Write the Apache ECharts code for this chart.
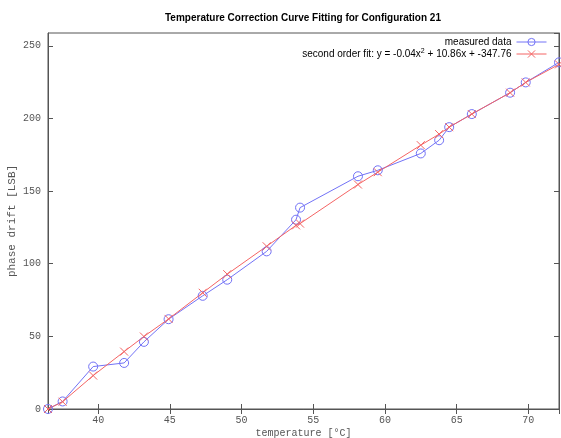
<!DOCTYPE html>
<html>
<head>
<meta charset="utf-8">
<script src="https://cdn.jsdelivr.net/npm/echarts@6/dist/echarts.min.js"></script>
<style>html,body{margin:0;padding:0;background:#fff;}#c{width:561px;height:438px;}</style>
</head>
<body>
<div id="c"></div>
<script>
var temperatures = [36.5, 37.52, 39.65, 41.81, 43.19, 44.91, 47.29, 49.0, 51.75, 53.8, 54.08, 58.12, 59.5, 62.5, 63.78, 64.48, 66.06, 68.73, 69.82, 72.14];
var measured = [0, 5.2, 29.2, 31.7, 46.2, 61.8, 77.9, 89, 108.5, 130.3, 138.6, 160.2, 164.3, 175.9, 185, 194, 203, 217.7, 224.8, 238.6];
var fitted = [0, 5, 23, 39.5, 49.9, 62, 80, 92.8, 112, 126.4, 127.6, 154.5, 163, 181.6, 189.2, 194, 203, 217.7, 224.8, 237.2];
var xMin = 36.5, xMax = 72.14, yMin = 0, yMax = 258.8;
var titleText = 'Temperature Correction Curve Fitting for Configuration 21';
var seriesNames = ['measured data', 'second order fit: y = -0.04x{s|2} + 10.86x + -347.76'];
var xLabel = 'temperature [°C]';
var yLabel = 'phase drift [LSB]';

var blue = '#7272f6', red = '#f46464', axisCol = '#555';
var mono = 'Liberation Mono';
function pairs(xs, ys){ return xs.map(function(x,i){ return [x, ys[i]]; }); }
var tickStyle = { show: true, inside: true, length: 5, lineStyle: { color: axisCol } };
var chart = echarts.init(document.getElementById('c'));
chart.setOption({
  animation: false,
  backgroundColor: '#fff',
  title: { text: titleText, left: 165, top: 13, padding: 0,
    textStyle: { fontFamily: 'Liberation Sans', fontWeight: 'bold', fontSize: 10, color: '#000' } },
  grid: { left: 48, right: 2, top: 33, bottom: 29, containLabel: false, outerBoundsMode: 'none',
    show: true, borderColor: axisCol, borderWidth: 1 },
  legend: {
    orient: 'vertical', right: 14, top: 34, align: 'right', itemGap: 0, padding: [2, 0, 2, 0],
    itemWidth: 30, itemHeight: 9,
    itemStyle: { borderWidth: 1 },
    lineStyle: { width: 1 },
    textStyle: { fontFamily: 'Liberation Sans', fontSize: 10, color: '#000', lineHeight: 12,
      rich: { s: { fontSize: 7, verticalAlign: 'top', padding: [0,0,6,0], fontFamily: 'Liberation Sans' } } },
    formatter: function(n){ return n; },
    data: [seriesNames[0], seriesNames[1]]
  },
  xAxis: [{
    type: 'value', min: xMin, max: xMax, splitNumber: 7, minInterval: 5, maxInterval: 5,
    name: xLabel, nameLocation: 'middle', nameGap: 19, nameMoveOverlap: false,
    nameTextStyle: { fontFamily: mono, fontSize: 10, color: axisCol },
    axisLine: { show: true, lineStyle: { color: axisCol } },
    axisTick: tickStyle, splitLine: { show: false },
    axisLabel: { showMinLabel: false, showMaxLabel: false, fontFamily: mono, fontSize: 10, color: axisCol, margin: 6,
      formatter: function(v){ return (Math.abs(v % 5) < 1e-9) ? String(v) : ''; } }
  }, {
    type: 'value', position: 'top', min: xMin, max: xMax, splitNumber: 7, minInterval: 5, maxInterval: 5,
    axisLine: { show: true, lineStyle: { color: axisCol } },
    axisTick: tickStyle, axisLabel: { show: false }, splitLine: { show: false }
  }],
  yAxis: [{
    type: 'value', min: yMin, max: yMax, minInterval: 50, maxInterval: 50,
    name: yLabel, nameLocation: 'middle', nameGap: 30, nameRotate: 90, nameMoveOverlap: false,
    nameTextStyle: { fontFamily: mono, fontSize: 11, color: axisCol },
    axisLine: { show: true, lineStyle: { color: axisCol } },
    axisTick: tickStyle, splitLine: { show: false },
    axisLabel: { showMaxLabel: false, fontFamily: mono, fontSize: 10, color: axisCol, margin: 7,
      formatter: function(v){ return (Math.abs(v % 50) < 1e-9) ? String(v) : ''; } }
  }, {
    type: 'value', position: 'right', min: yMin, max: yMax, minInterval: 50, maxInterval: 50,
    axisLine: { show: true, lineStyle: { color: axisCol } },
    axisTick: tickStyle, axisLabel: { show: false }, splitLine: { show: false }
  }],
  series: [{
    name: seriesNames[0], type: 'line', data: pairs(temperatures, measured),
    symbol: 'circle', symbolSize: 9, showAllSymbol: true,
    color: blue, lineStyle: { color: blue, width: 1 },
    itemStyle: { color: 'rgba(255,255,255,0)', borderColor: blue, borderWidth: 1 }
  }, {
    name: seriesNames[1], type: 'line', data: pairs(temperatures, fitted),
    symbol: 'path://M0,0L10,10M10,0L0,10', symbolSize: 8, showAllSymbol: true,
    color: red, lineStyle: { color: red, width: 1 },
    itemStyle: { color: 'rgba(255,255,255,0)', borderColor: red, borderWidth: 1 }
  }]
});
</script>
</body>
</html>
